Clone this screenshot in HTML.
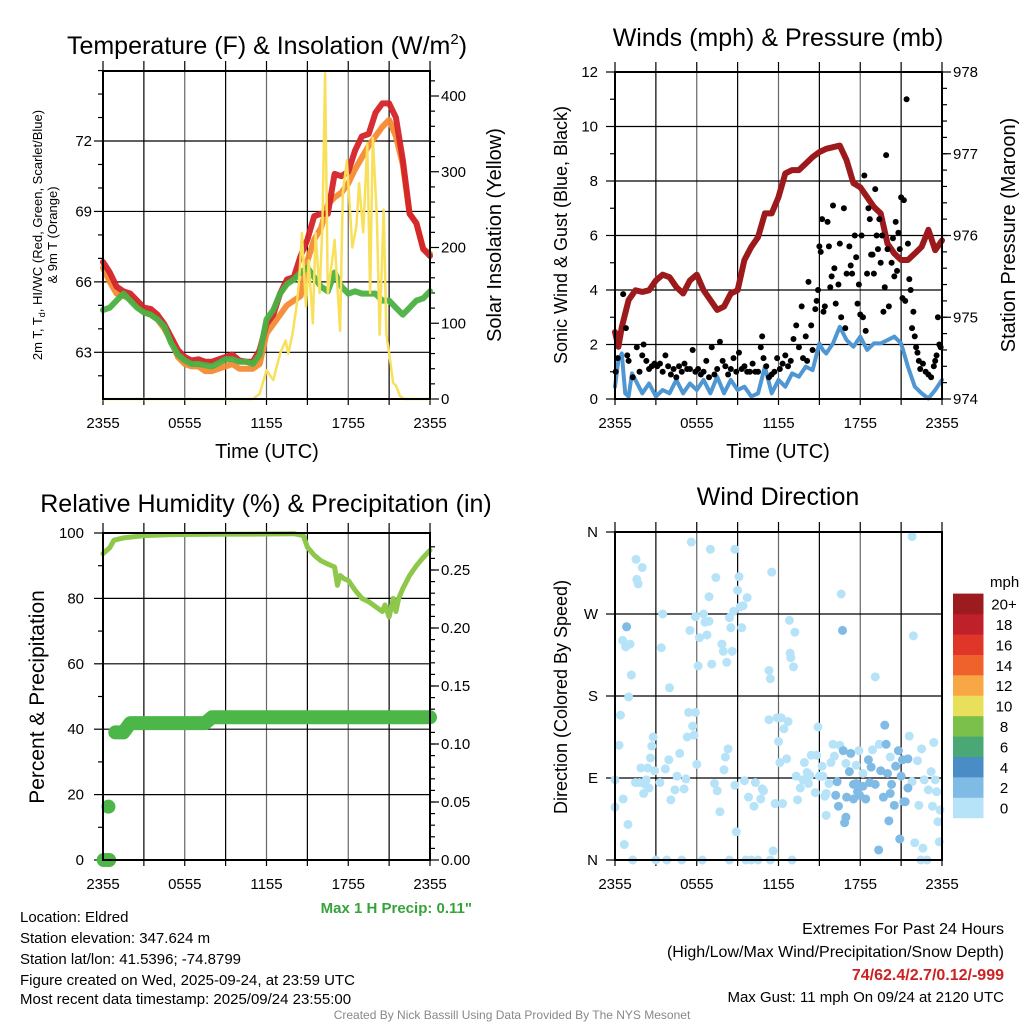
<!DOCTYPE html>
<html><head><meta charset="utf-8">
<style>
html,body{margin:0;padding:0;background:#fff;}
svg{display:block;font-family:"Liberation Sans",Arial,sans-serif;}
</style></head>
<body>
<svg id="s" width="1024" height="1024" viewBox="0 0 1024 1024" xmlns="http://www.w3.org/2000/svg">
<rect width="1024" height="1024" fill="#fff"/>
<!-- titles -->
<text x="267" y="54" font-size="25" text-anchor="middle">Temperature (F) &amp; Insolation (W/m<tspan font-size="15" dy="-10">2</tspan><tspan dy="10">)</tspan></text>
<text x="778" y="46" font-size="25" text-anchor="middle">Winds (mph) &amp; Pressure (mb)</text>
<text x="266" y="512" font-size="25" text-anchor="middle">Relative Humidity (%) &amp; Precipitation (in)</text>
<text x="778" y="505" font-size="25" text-anchor="middle">Wind Direction</text>
<!-- axis titles -->
<text transform="translate(42,235) rotate(-90)" font-size="13" text-anchor="middle">2m T, T<tspan font-size="9" dy="3">d</tspan><tspan dy="-3">, HI/WC (Red, Green, Scarlet/Blue)</tspan></text>
<text transform="translate(57,235) rotate(-90)" font-size="13" text-anchor="middle">&amp; 9m T (Orange)</text>
<text transform="translate(501,235) rotate(-90)" font-size="20" text-anchor="middle">Solar Insolation (Yellow)</text>
<text x="267" y="458" font-size="20" text-anchor="middle">Time (UTC)</text>
<text x="778" y="458" font-size="20" text-anchor="middle">Time (UTC)</text>
<text transform="translate(567,235) rotate(-90)" font-size="18" text-anchor="middle">Sonic Wind &amp; Gust (Blue, Black)</text>
<text transform="translate(1015,235) rotate(-90)" font-size="20" text-anchor="middle">Station Pressure (Maroon)</text>
<text transform="translate(44,697) rotate(-90)" font-size="21" text-anchor="middle">Percent &amp; Precipitation</text>
<text transform="translate(567,697) rotate(-90)" font-size="18" text-anchor="middle">Direction (Colored By Speed)</text>
<text x="472" y="913" font-size="15" font-weight="bold" fill="#36a33a" text-anchor="end">Max 1 H Precip: 0.11"</text>
<!-- info text -->
<g font-size="15">
<text x="20" y="922">Location: Eldred</text>
<text x="20" y="943">Station elevation: 347.624 m</text>
<text x="20" y="964">Station lat/lon: 41.5396; -74.8799</text>
<text x="20" y="985">Figure created on Wed, 2025-09-24, at 23:59 UTC</text>
<text x="20" y="1004">Most recent data timestamp: 2025/09/24 23:55:00</text>
</g>
<g font-size="16" text-anchor="end">
<text x="1004" y="934">Extremes For Past 24 Hours</text>
<text x="1004" y="957">(High/Low/Max Wind/Precipitation/Snow Depth)</text>
<text x="1004" y="980" font-weight="bold" fill="#cc2222">74/62.4/2.7/0.12/-999</text>
<text x="1004" y="1002" font-size="15">Max Gust: 11 mph On 09/24 at 2120 UTC</text>
</g>
<text x="512" y="1019" font-size="12" fill="#888" text-anchor="middle">Created By Nick Bassill Using Data Provided By The NYS Mesonet</text>
<g id="g"></g>
</svg>
<script>
// ---------- DATA ----------
const hrs = [0,0.5,1,1.5,2,2.5,3,3.5,4,4.5,5,5.5,6,6.5,7,7.5,8,8.5,9,9.5,10,10.5,11,11.5,12,12.5,13,13.5,14,14.5,15,15.5,16,16.5,17,17.5,18,18.5,19,19.5,20,20.5,21,21.5,22,22.5,23,23.5,24];
const tempRed = [66.85,66.4,65.8,65.6,65.5,65.2,64.9,64.85,64.6,64.2,63.65,63.1,62.8,62.65,62.7,62.6,62.6,62.7,62.8,62.9,62.65,62.6,62.6,63.1,64.2,64.6,65.5,66.1,66.2,67.1,67.8,68.8,68.9,68.9,70.6,70.5,70.7,71.6,72.2,72.3,73.2,73.6,73.6,73.0,71.2,68.9,68.5,67.4,67.1];
const tempOrange = [66.6,66.0,65.5,65.4,65.3,65.0,64.7,64.6,64.4,64.0,63.5,62.8,62.5,62.4,62.4,62.2,62.2,62.3,62.4,62.5,62.3,62.3,62.3,62.5,63.8,64.2,64.6,65.0,65.2,65.4,66.9,67.8,68.3,69.3,69.6,69.8,70.2,70.8,71.3,71.8,72.2,72.6,72.9,72.2,71.0,68.9,68.5,67.4,67.2];
const tempGreen = [64.8,64.9,65.2,65.5,65.2,64.9,64.7,64.6,64.4,64.1,63.4,62.9,62.65,62.5,62.5,62.45,62.4,62.55,62.7,62.7,62.6,62.6,62.5,62.9,64.4,64.8,65.5,65.9,66.1,66.4,66.6,66.2,65.8,65.6,66.4,65.8,65.5,65.6,65.5,65.5,65.5,65.2,65.2,64.9,64.6,64.9,65.2,65.3,65.6];
const solarHrs = [0,11,11.5,12,12.5,13,13.4,13.6,13.9,14.2,14.4,14.6,14.9,15.1,15.4,15.6,15.9,16.1,16.3,16.5,16.8,17.0,17.4,17.6,17.9,18.3,18.6,18.8,19.1,19.4,19.6,19.8,20.1,20.3,20.6,20.8,21.0,21.3,21.5,21.8,22.1,22.5,23,24];
const solarVals = [0,0,7,38,25,60,77,60,85,122,157,219,122,183,100,219,140,228,430,140,180,210,90,272,315,200,228,285,220,338,140,345,240,85,250,85,61,21,18,4,0,0,0,0];
const presHrs = [0,0.25,0.5,1,1.5,2,2.5,3,3.5,4,4.5,5,5.5,6,6.5,7,7.5,8,8.5,9,9.5,10,10.5,11,11.5,12,12.5,13,13.5,14,14.5,15,15.5,16,16.5,17,17.5,18,18.5,19,19.5,20,20.5,21,21.5,22,22.5,23,23.5,24];
const presVals = [974.82,974.64,974.88,975.21,975.33,975.31,975.33,975.45,975.52,975.49,975.37,975.29,975.45,975.52,975.33,975.21,975.09,975.13,975.29,975.33,975.7,975.86,975.98,976.27,976.27,976.47,976.76,976.8,976.8,976.88,976.96,977.02,977.06,977.08,977.1,976.92,976.64,976.59,976.47,976.35,976.27,975.9,975.78,975.7,975.7,975.78,975.86,976.07,975.82,975.94];
const windHrs = [0,0.25,0.5,0.75,1,1.25,1.5,2,2.5,3,3.5,4,4.5,5,5.5,6,6.5,7,7.5,8,8.5,9,9.5,10,10.5,11,11.5,12,12.5,13,13.5,14,14.5,15,15.25,15.5,16,16.5,17,17.5,18,18.5,19,19.5,20,20.5,21,21.5,22,22.5,23,23.5,24];
const windVals = [0.45,1.43,1.67,0.21,0.09,0.94,0.70,0.21,0.57,0.09,0.33,0.21,0.70,0.21,0.57,0.33,0.70,0.21,0.82,0.21,0.70,0.33,0.45,0.09,0.21,1.19,0.21,0.70,0.45,0.94,0.82,1.19,1.06,2.04,1.80,1.67,2.04,2.65,2.16,1.92,2.29,1.80,2.04,2.04,2.16,2.29,2.04,1.19,0.45,0.21,0.02,0.33,0.70];
const gustHrs = [0.05,0.2,0.6,0.8,0.9,1.0,1.3,1.6,1.8,2.0,2.1,2.3,2.5,2.7,2.9,3.1,3.3,3.5,3.7,3.9,4.1,4.3,4.5,4.7,4.9,5.1,5.3,5.5,5.7,5.9,6.1,6.3,6.5,6.7,6.9,7.1,7.3,7.5,7.7,7.9,8.1,8.3,8.5,8.7,8.9,9.1,9.3,9.5,9.7,9.9,10.1,10.3,10.5,10.7,10.8,10.9,11.1,11.3,11.5,11.7,11.9,12.1,12.3,12.5,12.7,12.9,13.1,13.3,13.5,13.7,13.8,14.0,14.1,14.2,14.4,14.5,14.7,14.8,14.9,15.0,15.1,15.2,15.3,15.4,15.6,15.7,15.8,15.9,16.0,16.1,16.2,16.4,16.5,16.6,16.8,16.9,17.0,17.2,17.3,17.4,17.6,17.7,17.8,17.9,18.0,18.1,18.2,18.3,18.4,18.5,18.6,18.7,18.8,18.9,19.0,19.1,19.2,19.3,19.4,19.5,19.6,19.7,19.8,19.9,20.0,20.1,20.3,20.4,20.5,20.6,20.7,20.8,20.9,21.0,21.1,21.2,21.3,21.4,21.5,21.6,21.7,21.8,21.9,22.0,22.1,22.2,22.3,22.4,22.6,22.8,23.0,23.2,23.4,23.5,23.6,23.7,23.8,23.9];
const gustVals = [1.0,1.5,3.85,2.6,1.6,1.4,0.8,1.9,1.0,1.6,2.0,1.4,1.1,1.2,1.3,1.2,1.3,1.0,1.6,1.2,0.9,1.1,0.8,1.2,1.0,1.3,1.1,1.1,1.8,1.0,1.1,0.9,1.0,1.4,0.8,1.9,0.9,1.1,2.1,1.4,1.2,0.9,1.1,1.5,1.0,1.7,1.1,1.2,1.0,1.0,1.3,1.0,1.0,1.9,2.3,1.5,1.2,0.8,0.9,1.0,1.5,1.1,1.3,1.6,1.2,1.4,2.2,2.7,1.9,3.4,1.5,2.3,1.4,4.3,2.7,1.8,3.3,3.6,4.0,5.6,5.4,6.6,3.2,3.4,6.5,5.6,4.1,4.5,7.1,4.8,3.5,4.2,5.7,3.0,7.0,2.6,4.6,5.6,4.9,4.6,6.0,5.2,3.5,4.2,3.1,6.0,3.0,8.2,2.5,4.6,7.0,6.6,5.3,5.3,4.6,7.7,6.0,5.5,6.6,5.0,6.0,3.2,4.1,8.95,5.5,3.4,5.0,5.9,4.5,6.5,4.7,6.1,5.5,7.4,3.7,7.3,3.6,11.0,5.7,4.4,4.0,2.6,3.2,2.3,1.9,1.7,1.4,1.1,1.3,1.0,0.9,0.8,1.2,1.4,1.6,3.0,2.0,1.9];
const rhHrs = [0,0.5,0.8,1.5,3,5,8,12,14,14.7,15,15.5,16,16.5,17,17.2,17.4,17.7,18,18.5,19,19.5,20,20.5,20.7,21,21.3,21.5,21.7,22,22.5,23,23.5,24];
const rhVals = [93.7,95.5,97.8,98.5,99.2,99.5,99.6,99.7,99.8,99.2,95.7,93.2,91.5,90.5,89.6,84.0,87,86,85.5,82.5,80,79,77.5,76,78,74.3,80,76,80,83,87,90,92.5,94.7];
const precipHrs = [0.9,1.5,2.0,7.5,8.0,24];
const precipVals = [0.110,0.110,0.118,0.118,0.123,0.123];
const precipDotHrs = [0.05,0.3,0.45,0.4];
const precipDotVals = [0,0,0,0.046];
const dirHrs = [0,0,0.3,0.4,0.56,0.6,0.68,0.78,0.85,0.95,1.0,1.1,1.2,1.3,1.54,1.6,1.7,1.8,1.9,2.0,2.1,2.2,2.4,2.5,2.6,2.7,2.8,2.9,3.0,3.3,3.4,3.5,3.7,3.8,3.95,4.0,4.1,4.4,4.55,4.75,4.9,5.07,5.2,5.3,5.4,5.5,5.6,5.7,5.8,5.9,5.9,6.0,6.1,6.2,6.4,6.5,6.6,6.75,6.9,6.9,7.0,7.1,7.3,7.4,7.5,7.7,7.85,7.95,8.0,8.1,8.2,8.3,8.4,8.4,8.5,8.6,8.7,8.8,8.8,8.9,9.0,9.1,9.2,9.3,9.4,9.5,9.6,9.7,9.8,10.0,10.2,10.3,10.5,10.7,10.8,10.9,11.3,11.3,11.4,11.4,11.5,11.6,11.75,11.9,12.0,12.1,12.2,12.3,12.4,12.6,12.7,12.8,12.85,12.9,13.0,13.1,13.2,13.3,13.4,13.6,13.8,13.9,14.1,14.2,14.4,14.7,14.8,14.9,15.0,15.4,15.5,16.0,16.1,16.5,16.6,16.95,17.7,17.9,18.2,18.9,19.1,19.4,20.2,21.6,21.8,21.8,21.9,22.0,22.2,22.3,22.5,22.6,22.7,22.9,23.0,23.2,23.3,23.4,23.5,23.6,23.7,23.8,23.85,22.45,14.3,1.5,2.3,
15.2,15.25,15.5,15.7,15.85,16.2,16.3,16.4,16.7,16.75,16.85,16.95,17.0,17.2,17.3,17.5,17.5,17.7,17.8,17.95,18.2,18.4,18.6,18.7,18.8,19.1,19.35,19.5,19.7,19.8,19.9,20.0,20.1,20.2,20.3,20.5,20.6,20.8,20.9,21.0,21.1,21.2,21.3,21.5,21.5,0.85];
const dirVals = [88,58,126,159,241,67,17,234,256,39,179,237,203,0,330,308,303,85,101,321,73,83,101,79,112,125,135,98,0,85,233,270,100,0,110,189,66,77,92,117,0,78,89,135,162,252,349,147,137,162,267,105,213,244,0,270,261,247,262,289,341,215,84,310,76,53,237,229,99,113,217,122,0,266,255,229,273,341,82,31,296,311,278,255,279,87,0,288,69,0,59,85,0,67,78,76,154,208,199,0,316,10,62,156,130,107,156,62,144,111,152,263,227,222,0,212,250,92,66,79,88,107,96,84,115,74,115,146,92,70,49,127,114,126,292,106,104,120,95,121,201,127,113,136,86,355,246,19,109,60,122,13,88,0,77,97,59,129,88,75,42,20,55,0,93,85,88,
103,92,73,84,107,71,86,59,252,120,41,47,69,97,117,83,67,84,75,71,81,67,110,85,102,83,11,98,69,148,127,95,43,73,83,60,103,120,23,92,110,64,64,111,79,256];
const dirSpeeds = [1,1,1,1,1,1,1,1,1,1,1,1,1,1,1,1,1,1,1,1,1,1,1,1,1,1,1,1,1,1,1,1,1,1,1,1,1,1,1,1,1,1,1,1,1,1,1,1,1,1,1,1,1,1,1,1,1,1,1,1,1,1,1,1,1,1,1,1,1,1,1,1,1,1,1,1,1,1,1,1,1,1,1,1,1,1,1,1,1,1,1,1,1,1,1,1,1,1,1,1,1,1,1,1,1,1,1,1,1,1,1,1,1,1,1,1,1,1,1,1,1,1,1,1,1,1,1,1,1,1,1,1,1,1,1,1,1,1,1,1,1,1,1,1,1,1,1,1,1,1,1,1,1,1,1,1,1,1,1,1,1,1,1,1,1,1,1,1,1,1,1,1,
3,3,3,3,3,3,3,3,3,3,3,3,3,3,3,3,3,3,3,3,3,3,3,3,3,3,3,3,3,3,3,3,3,3,3,3,3,3,3,3,3,3,3,3,3,3];
const timeTicks = ["2355","0555","1155","1755","2355"];
const tempTicks = [63,66,69,72];
const solarTicks = [0,100,200,300,400];
const windTicks = [0,2,4,6,8,10,12];
const presTicks = [974,975,976,977,978];
const pctTicks = [0,20,40,60,80,100];
const precipTicks = ["0.00","0.05","0.10","0.15","0.20","0.25"];
const dirTicks = ["N","E","S","W","N"];
const cbLabels = ["0","2","4","6","8","10","12","14","16","18","20+"];
const cbColors = ["#b7e3f8","#80bbe6","#4a8cc6","#4aa874","#7cc04c","#e8e05a","#f7a845","#f0622b","#e0362a","#c0202a","#9b1b1e"];

// ---------- DRAW ----------
const NS="http://www.w3.org/2000/svg";
const G=document.getElementById('g');
function el(tag,attrs,parent,txt){const e=document.createElementNS(NS,tag);for(const k in attrs)e.setAttribute(k,attrs[k]);if(txt!==undefined)e.textContent=txt;(parent||G).appendChild(e);return e;}
function lin(d0,d1,r0,r1){return v=>r0+(v-d0)/(d1-d0)*(r1-r0);}
function path(xs,ys,fx,fy){return xs.map((x,i)=>(i?'L':'M')+fx(x).toFixed(1)+','+fy(ys[i]).toFixed(1)).join('');}

function frame(L,T,R,B,name){
  const g=el('g',{});
  
  
  for(let i=1;i<8;i++){const x=L+(R-L)*i/8;const ln=el('line',{x1:x,y1:T,x2:x,y2:B,stroke:(i%2?'#000':'#666'),'stroke-width':1.2},g);
    
    }
  for(let i=0;i<=8;i++){const x=L+(R-L)*i/8;el('line',{x1:x,y1:B,x2:x,y2:B+6,stroke:'#000','stroke-width':1.2},g);el('line',{x1:x,y1:T,x2:x,y2:T-10,stroke:'#000','stroke-width':1.2},g);}
  timeTicks.forEach((s,i)=>{const t=el('text',{x:L+(R-L)*i/4,y:B+29,'font-size':15,'text-anchor':'middle'},g,s);
    
    });
  return g;
}
function border(L,T,R,B){const r=el('rect',{x:L,y:T,width:R-L,height:B-T,fill:'none',stroke:'#000','stroke-width':2});
  
  }
function hgrid(g,L,R,y){el('line',{x1:L,y1:y,x2:R,y2:y,stroke:'#000','stroke-width':1.2},g);}
function ytick(g,x,y,len,label,anchor,lx){el('line',{x1:x,y1:y,x2:x+len,y2:y,stroke:'#000','stroke-width':1.2},g);
  if(label!==null){const t=el('text',{x:lx,y:y+5,'font-size':15,'text-anchor':anchor},g,label);
    
    }}
function series(d,color,w,name,op){const p=el('path',{d:d,fill:'none',stroke:color,'stroke-width':w,'stroke-linejoin':'round','stroke-linecap':'round',opacity:op||1});
  
  return p;}

// Panel 1
(function(){
  const L=103,T=71,R=430,B=399;
  const fx=lin(0,24,L,R), fy=lin(63,72,352.3,141), fs=lin(0,400,399,96);
  const g=frame(L,T,R,B,'temperature-panel');
  tempTicks.forEach(v=>{hgrid(g,L,R,fy(v));ytick(g,L,fy(v),-9,String(v),'end',92);});
  for(let v=62;v<=75;v++) if(!tempTicks.includes(v)) ytick(g,L,fy(v),-5,null);
  solarTicks.forEach(v=>ytick(g,R,fs(v),9,String(v),'start',441));
  for(let v=20;v<=430;v+=20) if(v%100) ytick(g,R,fs(v),5,null);
  series(path(hrs,tempOrange,fx,fy),'#f58a33',6,'temp-9m-line',0.95);
  series(path(hrs,tempRed,fx,fy),'#d42327',6,'temp-2m-line',0.95);
  series(path(hrs,tempGreen,fx,fy),'#4bb143',6,'dewpoint-line',0.95);
  series(path(solarHrs,solarVals,fx,fs),'#f8e05a',2.5,'solar-line');
  border(L,T,R,B);
})();
// Panel 2
(function(){
  const L=615,T=72,R=942,B=399;
  const fx=lin(0,24,L,R), fy=lin(0,12,B,T), fp=lin(974,978,B,T);
  const g=frame(L,T,R,B,'wind-panel');
  windTicks.forEach(v=>{if(v>0&&v<12)hgrid(g,L,R,fy(v));ytick(g,L,fy(v),-9,String(v),'end',598);});
  for(let v=1;v<12;v+=2) ytick(g,L,fy(v),-5,null);
  presTicks.forEach(v=>ytick(g,R,fp(v),9,String(v),'start',953));
  for(let v=974.2;v<978;v+=0.2) ytick(g,R,fp(v),5,null);
  series(path(presHrs,presVals,fx,fp),'#9c1a1c',6,'pressure-line');
  series(path(windHrs,windVals,fx,fy),'#4f97d3',4,'sonic-wind-line');
  gustHrs.forEach((h,i)=>{const c=el('circle',{cx:fx(h),cy:fy(gustVals[i]),r:3,fill:'#000'});
    
    });
  border(L,T,R,B);
})();
// Panel 3
(function(){
  const L=103,T=533,R=430,B=860;
  const fx=lin(0,24,L,R), fy=lin(0,100,B,T), fr=lin(0,0.25,B,570);
  const g=frame(L,T,R,B,'humidity-panel');
  pctTicks.forEach(v=>{if(v>0&&v<100)hgrid(g,L,R,fy(v));ytick(g,L,fy(v),-9,String(v),'end',84);});
  for(let v=10;v<100;v+=20) ytick(g,L,fy(v),-5,null);
  precipTicks.forEach(s=>ytick(g,R,fr(parseFloat(s)),9,s,'start',441));
  for(let v=0.01;v<0.28;v+=0.01) ytick(g,R,fr(v),5,null);
  series(path(rhHrs,rhVals,fx,fy),'#8dc84b',5,'humidity-line');
  series(path(precipHrs,precipVals,fx,fr),'#4cb748',14,'precip-line');
  precipDotHrs.forEach((h,i)=>{const c=el('circle',{cx:fx(h),cy:fr(precipDotVals[i]),r:7,fill:'#4cb748'});
    
    });
  border(L,T,R,B);
})();
// Panel 4
(function(){
  const L=615,T=532,R=942,B=860;
  const fx=lin(0,24,L,R), fy=lin(0,360,B,T);
  const g=frame(L,T,R,B,'direction-panel');
  dirTicks.forEach((s,i)=>{const v=i*90;if(i>0&&i<4)hgrid(g,L,R,fy(v));ytick(g,L,fy(v),-9,s,'end',598);});
  dirHrs.forEach((h,i)=>{const sp=dirSpeeds[i];const c=el('circle',{cx:fx(h),cy:fy(dirVals[i]),r:4.5,fill:cbColors[Math.min(10,Math.floor(sp/2))]});
    
    });
  border(L,T,R,B);
  const cb=el('g',{});
  
  
  const ct=el('text',{x:990,y:587,'font-size':15},cb,'mph');
  
  
  cbColors.forEach((c,i)=>{const y=818-(i+1)*20.4;
    const r=el('rect',{x:953,y:y,width:30.5,height:20.6,fill:c},cb);
    
    
    const t=el('text',{x:1004,y:y+16,'font-size':15,'text-anchor':'middle'},cb,cbLabels[i]);
    
    });
})();
</script>
</body></html>
